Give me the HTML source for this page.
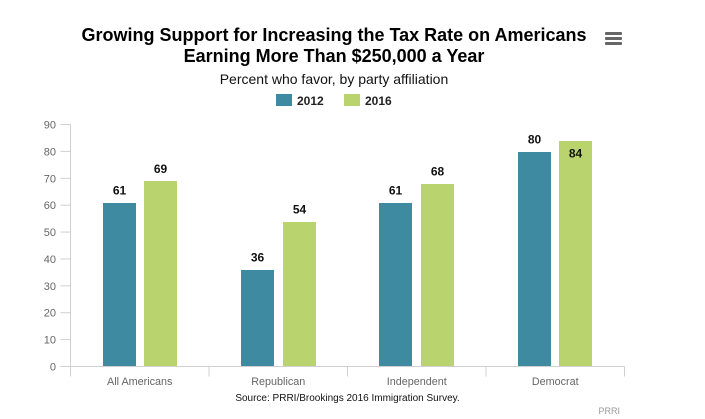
<!DOCTYPE html>
<html>
<head>
<meta charset="utf-8">
<style>
html,body{margin:0;padding:0;background:#fff;width:705px;height:419px;overflow:hidden}
svg{display:block;font-family:"Liberation Sans",Arial,sans-serif}
</style>
</head>
<body>
<svg id="chart" width="705" height="419" viewBox="0 0 705 419">
  <text x="334" y="41" text-anchor="middle" font-size="18" font-weight="bold" fill="#000">Growing Support for Increasing the Tax Rate on Americans</text>
  <text x="334" y="62" text-anchor="middle" font-size="18" font-weight="bold" fill="#000">Earning More Than $250,000 a Year</text>
  <text x="334" y="84" text-anchor="middle" font-size="14" fill="#111">Percent who favor, by party affiliation</text>
  <g>
    <rect x="605" y="32" width="17" height="3" rx="1" fill="#666"/>
    <rect x="605" y="37" width="17" height="3" rx="1" fill="#666"/>
    <rect x="605" y="42" width="17" height="3" rx="1" fill="#666"/>
  </g>
  <g>
    <g>
      <rect x="276" y="94" width="16" height="12" fill="#3E8AA0"/>
      <text x="297" y="105" font-size="12" font-weight="bold" fill="#222">2012</text>
    </g>
    <g>
      <rect x="344" y="94" width="16" height="12" fill="#B9D36E"/>
      <text x="365" y="105" font-size="12" font-weight="bold" fill="#222">2016</text>
    </g>
  </g>
  <g id="axes"></g>
  <g id="bars"></g>
  <g id="labels"></g>
  <text x="347.5" y="401" text-anchor="middle" font-size="10" fill="#111">Source: PRRI/Brookings 2016 Immigration Survey.</text>
  <text x="620" y="414" text-anchor="end" font-size="9" fill="#999">PRRI</text>
</svg>
<script>
const categories = ["All Americans", "Republican", "Independent", "Democrat"];
const values2012 = [61, 36, 61, 80];
const values2016 = [69, 54, 68, 84];
const yTicks = [0, 10, 20, 30, 40, 50, 60, 70, 80, 90];

const NS = "http://www.w3.org/2000/svg";
const left = 70.5, right = 624.5, y0 = 366.5, y90 = 124.5, yMax = 90;
const barW = 33;
const catW = (right - left) / categories.length;
const barStep = catW - 0.1;
const xCat = i => left + catW * i;
const xMid = i => xCat(i) + catW / 2;
const xBarA = i => Math.round(left + 32.1 + barStep * i);
const xBarB = i => Math.round(left + 73.7 + barStep * i);
const yVal = v => y0 - (y0 - y90) * v / yMax;
const yBar = v => Math.ceil(yVal(v));
const barBase = 366;

function mk(tag, attrs, parent, text) {
  const el = document.createElementNS(NS, tag);
  for (const k in attrs) el.setAttribute(k, attrs[k]);
  if (text !== undefined) el.textContent = text;
  parent.appendChild(el);
  return el;
}

const axes = document.getElementById("axes");
const bars = document.getElementById("bars");
const labels = document.getElementById("labels");

const yLine = mk("line", {x1: left, x2: left, y1: y90, y2: y0, stroke: "#d0d0d0"}, axes);


const xLine = mk("line", {x1: left, x2: right, y1: y0, y2: y0, stroke: "#d0d0d0"}, axes);



yTicks.forEach(t => {
  const tick = mk("line", {x1: left - 10, x2: left, y1: yVal(t), y2: yVal(t), stroke: "#d0d0d0"}, axes);
  
  
  const lab = mk("text", {x: 56, y: yVal(t) + 4, "text-anchor": "end", "font-size": 11, fill: "#666"}, axes, String(t));
  
  
});

for (let i = 0; i <= categories.length; i++) {
  const tick = mk("line", {x1: xCat(i), x2: xCat(i), y1: y0, y2: y0 + 10, stroke: "#d0d0d0"}, axes);
  
  
}

categories.forEach((c, i) => {
  const lab = mk("text", {x: xMid(i), y: 385, "text-anchor": "middle", "font-size": 10.8, fill: "#666"}, axes, c);
  
  

  const a = mk("rect", {x: xBarA(i), y: yBar(values2012[i]), width: barW, height: barBase - yBar(values2012[i]), fill: "#3E8AA0"}, bars);
  
  
  const b = mk("rect", {x: xBarB(i), y: yBar(values2016[i]), width: barW, height: barBase - yBar(values2016[i]), fill: "#B9D36E"}, bars);
  
  

  const la = mk("text", {x: xBarA(i) + barW / 2, y: yVal(values2012[i]) - 8, "text-anchor": "middle", "font-size": 12, "font-weight": "bold", fill: "#111"}, labels, String(values2012[i]));
  
  
  const inside = yVal(values2016[i]) < y90 + 20;
  const lb = mk("text", {x: xBarB(i) + barW / 2, y: inside ? yVal(values2016[i]) + 17 : yVal(values2016[i]) - 8, "text-anchor": "middle", "font-size": 12, "font-weight": "bold", fill: "#111"}, labels, String(values2016[i]));
  
  
});
</script>
</body>
</html>
